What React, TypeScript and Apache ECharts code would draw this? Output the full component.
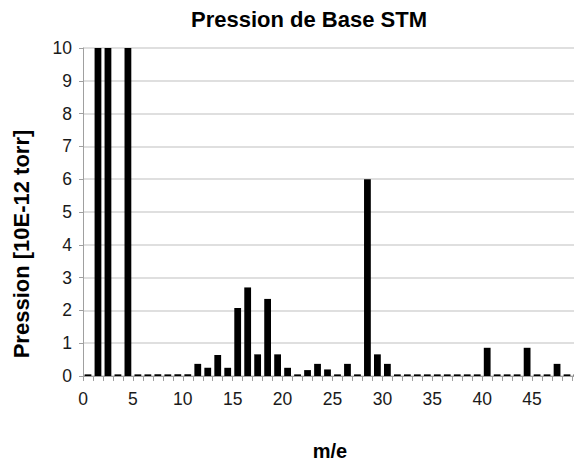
import React, { useEffect, useRef } from "react";
import * as echarts from "echarts";

const categories: string[] = Array.from({ length: 50 }, (_, i) => String(i));
const pressure: number[] = [
  0.05, 10, 10, 0.05, 10, 0.05, 0.05, 0.05, 0.05, 0.05,
  0.05, 0.37, 0.25, 0.64, 0.25, 2.07, 2.7, 0.66, 2.35, 0.66,
  0.25, 0.05, 0.18, 0.37, 0.2, 0.05, 0.37, 0.05, 6, 0.66,
  0.37, 0.05, 0.05, 0.05, 0.05, 0.05, 0.05, 0.05, 0.05, 0.05,
  0.86, 0.05, 0.05, 0.05, 0.86, 0.05, 0.05, 0.37, 0.05, 0.05,
];
const titleText = "Pression de Base STM";
const yName = "Pression [10E-12 torr]";
const xName = "m/e";

const FONT = "'Liberation Sans', Arial, Helvetica, sans-serif";

export default function App() {
  const ref = useRef<HTMLDivElement>(null);
  useEffect(() => {
    if (!ref.current) return;
    const chart = echarts.init(ref.current, null, { renderer: "svg" });
    chart.setOption({
      animation: false,
      backgroundColor: "#ffffff",
      title: {
        text: titleText,
        left: 309,
        textAlign: "center",
        top: 8,
        padding: 0,
        textStyle: { fontFamily: FONT, fontSize: 22, fontWeight: "bold", color: "#000" },
      },
      graphic: [
        {
          type: "text",
          x: 21,
          y: 244,
          rotation: Math.PI / 2,
          style: {
            text: yName,
            fontFamily: FONT,
            fontSize: 22,
            fontWeight: "bold",
            fill: "#000",
            textAlign: "center",
            textVerticalAlign: "middle",
          },
        },
        {
          type: "text",
          x: 330,
          y: 451,
          style: {
            text: xName,
            fontFamily: FONT,
            fontSize: 20,
            fontWeight: "bold",
            fill: "#000",
            textAlign: "center",
            textVerticalAlign: "middle",
          },
        },
      ],
      grid: { left: 83, top: 48, width: 502.5, height: 328, containLabel: false },
      xAxis: {
        type: "category",
        data: categories,
        boundaryGap: true,
        axisLine: { show: true, lineStyle: { color: "#a0a0a0", width: 1 } },
        axisTick: { show: true, interval: 0, length: 5, alignWithLabel: false, lineStyle: { color: "#a0a0a0" } },
        axisLabel: {
          interval: 0,
          formatter: (v: string) => (Number(v) % 5 === 0 ? v : ""),
          fontFamily: FONT,
          fontSize: 17.5,
          color: "#1a1a1a",
          margin: 14,
          padding: [0, 10, 0, 0],
        },
        splitLine: { show: false },
      },
      yAxis: {
        type: "value",
        min: 0,
        max: 10,
        interval: 1,
        axisLine: { show: true, lineStyle: { color: "#a0a0a0", width: 1 } },
        axisTick: { show: true, length: 4, lineStyle: { color: "#a0a0a0" } },
        axisLabel: { fontFamily: FONT, fontSize: 17.5, color: "#1a1a1a", margin: 11 },
        splitLine: { show: true, lineStyle: { color: "#d4d4d4", width: 1.5 } },
      },
      series: [
        {
          type: "bar",
          data: pressure,
          barWidth: "68%",
          itemStyle: { color: "#000000" },
        },
      ],
    });
    return () => chart.dispose();
  }, []);
  return <div ref={ref} style={{ width: 582, height: 461, marginLeft: -8, marginTop: -8 }} />;
}
